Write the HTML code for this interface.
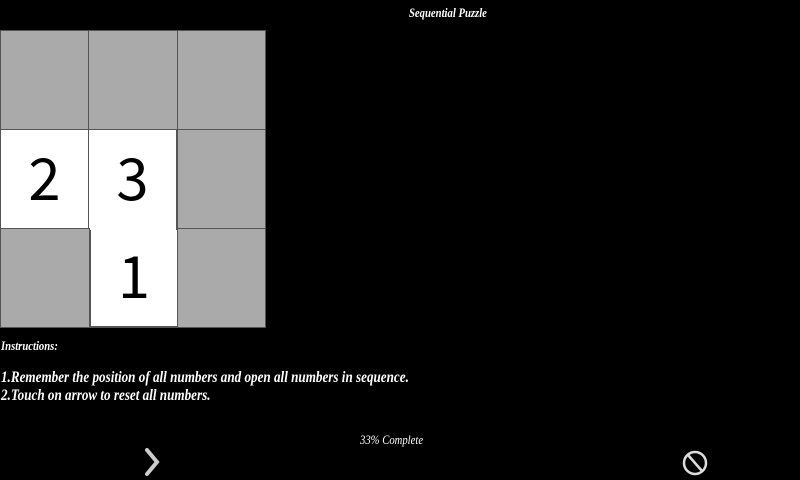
<!DOCTYPE html>
<html><head><meta charset="utf-8"><style>
html,body{margin:0;padding:0;background:#000;width:800px;height:480px;overflow:hidden;position:relative;font-family:"Liberation Serif",serif;color:#fff}
.t{position:absolute;font-weight:bold;font-style:italic;white-space:nowrap;transform-origin:left top;transform:scaleX(0.82)}
.cell{position:absolute;box-sizing:border-box;background:#aaa;border:1px solid #555}
.w{background:#fff;font-family:"Noto Sans CJK JP",sans-serif;font-weight:400;color:#000;font-size:58px;display:flex;align-items:center;justify-content:center;padding-bottom:10px}
</style></head><body>
<div class="t" style="left:409px;top:5px;font-size:13px">Sequential Puzzle</div>
<div style="position:absolute;left:0;top:30px;width:266px;height:298px;background:#555">
<div class="cell" style="left:0;top:0;width:89px;height:100px"></div>
<div class="cell" style="left:88px;top:0;width:90px;height:100px"></div>
<div class="cell" style="left:177px;top:0;width:89px;height:100px"></div>
<div class="cell w" style="left:1px;top:100px;width:87px;height:100px;border:none">2</div>
<div class="cell w" style="left:89px;top:100px;width:87px;height:100px;border:none">3</div>
<div class="cell" style="left:177px;top:99px;width:89px;height:100px"></div>
<div class="cell" style="left:0;top:198px;width:90px;height:100px"></div>
<div class="cell w" style="left:91px;top:200px;width:86px;height:96px;border:none">1</div>
<div class="cell" style="left:177px;top:198px;width:89px;height:100px"></div>
</div>
<div class="t" style="left:1px;top:338px;font-size:13px">Instructions:</div>
<div class="t" style="left:1px;top:369px;font-size:16px">1.Remember the position of all numbers and open all numbers in sequence.</div>
<div class="t" style="left:1px;top:387px;font-size:16px">2.Touch on arrow to reset all numbers.</div>
<div class="t" style="left:360px;top:432px;font-size:13px;font-weight:normal">33% Complete</div>
<svg style="position:absolute;left:140px;top:446px" width="24" height="32"><polyline points="7,4 17,16 7,28" fill="none" stroke="#ccc" stroke-width="4" stroke-linecap="round"/></svg>
<svg style="position:absolute;left:681px;top:448px" width="28" height="30"><circle cx="14" cy="15" r="11" fill="none" stroke="#ddd" stroke-width="2.5"/><line x1="7" y1="7" x2="21" y2="23" stroke="#ddd" stroke-width="2.5"/></svg>
</body></html>
